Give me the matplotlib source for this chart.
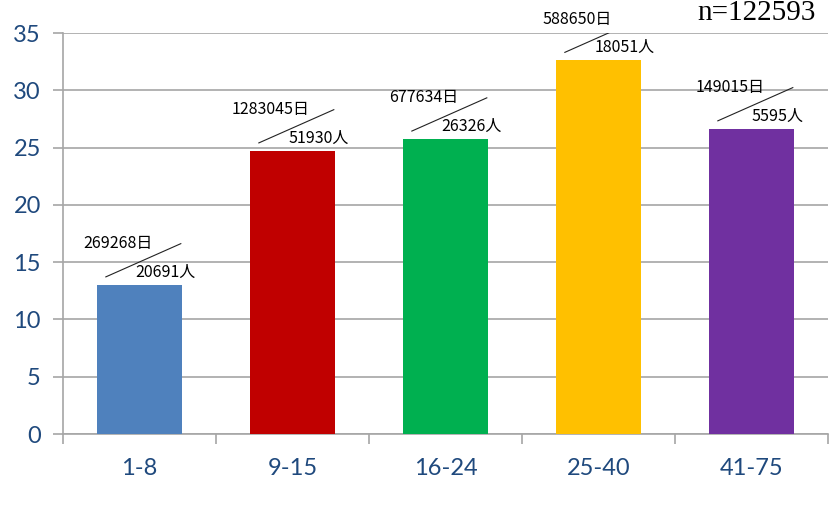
import numpy as np
import matplotlib

matplotlib.use("Agg")
import matplotlib.pyplot as plt

# ---- data -----------------------------------------------------------------
groups = ["1-8", "9-15", "16-24", "25-40", "41-75"]
days = [269268, 1283045, 677634, 588650, 149015]
persons = [20691, 51930, 26326, 18051, 5595]
colors = ["#4F81BD", "#C00000", "#00B050", "#FFC000", "#7030A0"]
total_n = 122593

values = [d / p for d, p in zip(days, persons)]

TICK_COLOR = "#1F497D"
GRID_COLOR = "#A6A6A6"
CJK = ["Noto Sans CJK JP", "DejaVu Sans"]

fig = plt.figure(figsize=(8.34, 5.11), dpi=100)
ax = fig.add_axes([63 / 834, 77 / 511, 765 / 834, 401 / 511])

x = np.arange(len(groups))
ax.bar(x, values, width=0.55, color=colors, zorder=3)

# ---- diagonal "days / persons" callouts --------------------------------
for xi, v, d, p in zip(x, values, days, persons):
    ax.plot([xi - 0.22, xi + 0.27], [v + 0.7, v + 3.6],
            color="#222222", linewidth=0.8, zorder=4)
    ax.text(xi - 0.14, v + 3.6, f"{d}日", ha="center", va="center",
            fontsize=11.5, family=CJK, zorder=5)
    ax.text(xi + 0.17, v + 1.1, f"{p}人", ha="center", va="center",
            fontsize=11.5, family=CJK, zorder=5)

ax.set_xlim(-0.5, len(groups) - 0.5)
ax.set_ylim(0, 35)
ax.set_yticks(np.arange(0, 36, 5))
ax.set_xticks(x)
ax.set_xticklabels(groups)
ax.set_xticks(np.arange(-0.5, len(groups)), minor=True)

ax.yaxis.grid(True, color=GRID_COLOR, linewidth=1.2, zorder=0)
ax.tick_params(axis="y", colors=GRID_COLOR, labelcolor=TICK_COLOR,
               labelsize=17, length=7, width=1.2, pad=9)
ax.tick_params(axis="x", which="major", length=0, labelcolor=TICK_COLOR,
               labelsize=17, pad=17)
ax.tick_params(axis="x", which="minor", length=7, width=1.2,
               colors=GRID_COLOR)
for lab in ax.get_xticklabels() + ax.get_yticklabels():
    lab.set_family(["Lato", "DejaVu Sans"])

for side in ["top", "right"]:
    ax.spines[side].set_visible(False)
for side in ["left", "bottom"]:
    ax.spines[side].set_color(GRID_COLOR)
    ax.spines[side].set_linewidth(1.2)

fig.text(697 / 834, 1.0, f"n={total_n}", ha="left", va="top",
         fontsize=21, family="Liberation Serif")

fig.savefig("out.png", dpi=100)
